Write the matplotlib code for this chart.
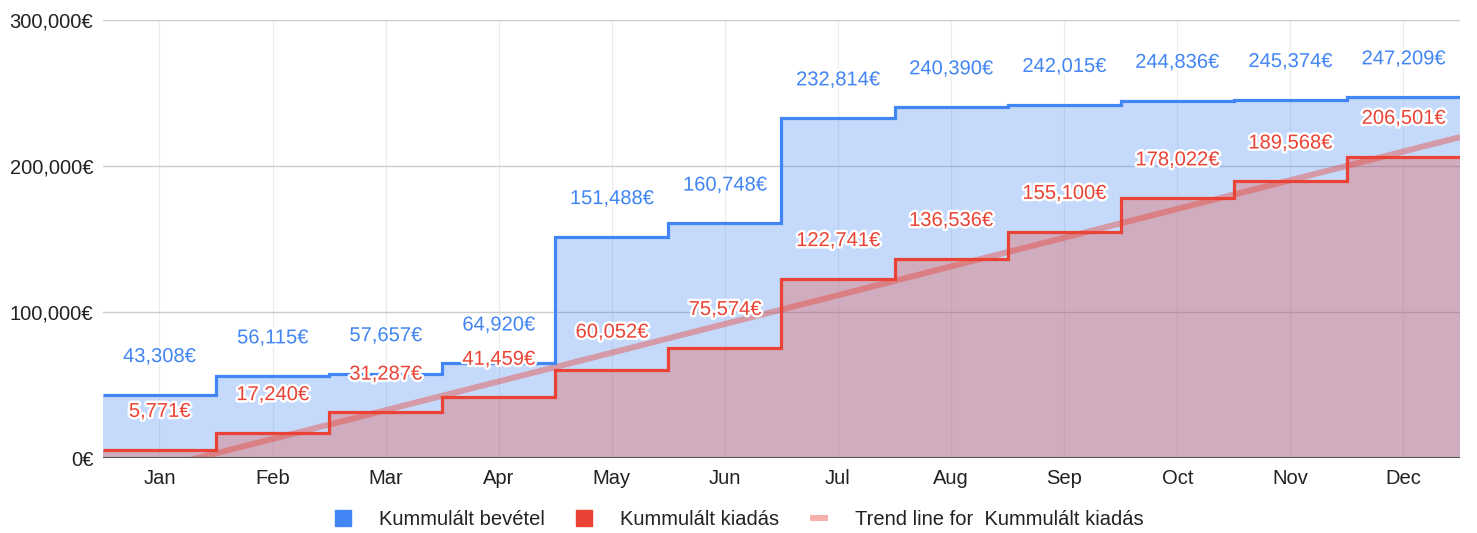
import numpy as np
import matplotlib
matplotlib.use("Agg")
import matplotlib.pyplot as plt
import matplotlib.patheffects as pe
from matplotlib.lines import Line2D
from matplotlib.ticker import FuncFormatter

months = ["Jan", "Feb", "Mar", "Apr", "May", "Jun",
          "Jul", "Aug", "Sep", "Oct", "Nov", "Dec"]
bevetel = [43308, 56115, 57657, 64920, 151488, 160748,
           232814, 240390, 242015, 244836, 245374, 247209]
kiadas = [5771, 17240, 31287, 41459, 60052, 75574,
          122741, 136536, 155100, 178022, 189568, 206501]
y_ticks = [0, 100000, 200000, 300000]

BLUE = "#4285F4"
RED = "#EA4335"
FS = 14.5

plt.rcParams["font.family"] = ["Liberation Sans", "DejaVu Sans"]

fig = plt.figure(figsize=(14.77, 5.33), dpi=100)
ax = fig.add_axes([0.0697, 0.1407, 0.9188, 0.8218])

x = np.arange(len(months))
edges = np.arange(len(months) + 1) - 0.5

# filled step areas
ax.stairs(bevetel, edges, fill=True, baseline=0, color=BLUE, alpha=0.3,
          linewidth=0, zorder=1)
ax.stairs(kiadas, edges, fill=True, baseline=0, color=RED, alpha=0.3,
          linewidth=0, zorder=2)

# trend line for expenses (least squares on the monthly values)
slope, icpt = np.polyfit(x, kiadas, 1)
tx = np.array([edges[0], edges[-1]])
ax.plot(tx, slope * tx + icpt, color=RED, alpha=0.42, linewidth=4.3,
        solid_capstyle="butt", zorder=3)

ax.stairs(bevetel, edges, baseline=None, color=BLUE, linewidth=2.3, zorder=4)
ax.stairs(kiadas, edges, baseline=None, color=RED, linewidth=2.3, zorder=5)

halo = [pe.withStroke(linewidth=3.5, foreground="white")]
for i in range(len(months)):
    ax.annotate(f"{bevetel[i]:,}€", (x[i], bevetel[i]), xytext=(0, 27.5),
                textcoords="offset points", ha="center", va="center",
                fontsize=FS, color=BLUE, path_effects=halo, zorder=6)
    ax.annotate(f"{kiadas[i]:,}€", (x[i], kiadas[i]), xytext=(0, 27.5),
                textcoords="offset points", ha="center", va="center",
                fontsize=FS, color=RED, path_effects=halo, zorder=7)

ax.set_xlim(edges[0], edges[-1])
ax.set_ylim(0, 300000)
ax.set_xticks(x)
ax.set_xticklabels(months)
ax.set_yticks(y_ticks)
ax.yaxis.set_major_formatter(FuncFormatter(lambda v, p: f"{v:,.0f}€"))
ax.tick_params(length=0, labelsize=FS, colors="#222222")
ax.tick_params(axis="y", pad=7)
ax.tick_params(axis="x", pad=8)

for s in ax.spines.values():
    s.set_visible(False)
ax.set_axisbelow(True)
ax.grid(axis="y", color="#cccccc", linewidth=1.0, zorder=0)
ax.grid(axis="x", color="#ececec", linewidth=0.8, zorder=0)
ax.axhline(0, color="#555555", linewidth=1.5, zorder=8)

handles = [
    Line2D([], [], marker="s", linestyle="none", markersize=11,
           markerfacecolor=BLUE, markeredgecolor=BLUE),
    Line2D([], [], marker="s", linestyle="none", markersize=11,
           markerfacecolor=RED, markeredgecolor=RED),
    Line2D([], [], color=RED, alpha=0.42, linewidth=4.3,
           solid_capstyle="butt"),
]
labels = ["Kummulált bevétel", "Kummulált kiadás",
          "Trend line for  Kummulált kiadás"]
fig.legend(handles, labels, loc="center", bbox_to_anchor=(0.5, 0.026),
           ncol=3, frameon=False, fontsize=FS, handlelength=0.9,
           handletextpad=1.35, columnspacing=1.5, labelcolor="#222222")

fig.savefig("out.png", dpi=100)
plt.close(fig)
